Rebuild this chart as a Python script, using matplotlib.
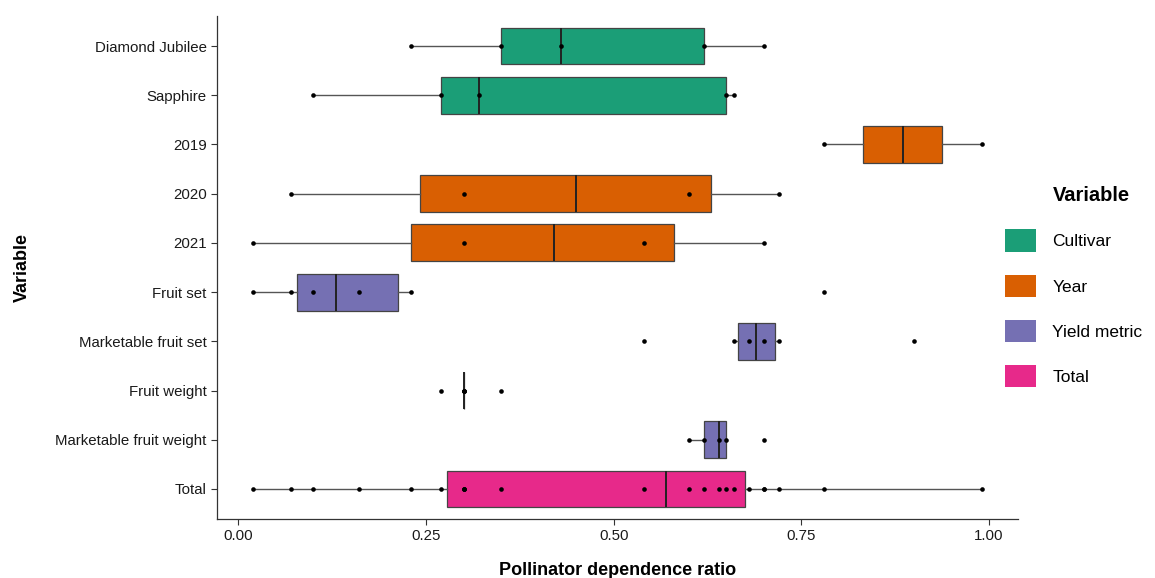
import numpy as np
import matplotlib
matplotlib.use("Agg")
import matplotlib.pyplot as plt
from matplotlib.patches import Patch

# pollinator dependence ratios per grouping
diamond_jubilee = [0.23, 0.35, 0.43, 0.62, 0.70]
sapphire = [0.10, 0.27, 0.32, 0.65, 0.66]
yr_2019 = [0.78, 0.99]
yr_2020 = [0.07, 0.30, 0.60, 0.72]
yr_2021 = [0.02, 0.30, 0.54, 0.70]
fruit_set = [0.02, 0.07, 0.10, 0.16, 0.23, 0.78]
mkt_fruit_set = [0.54, 0.66, 0.68, 0.70, 0.72, 0.90]
fruit_weight = [0.27, 0.30, 0.30, 0.30, 0.30, 0.35]
mkt_fruit_weight = [0.60, 0.62, 0.64, 0.65, 0.70]
total = [0.02, 0.07, 0.10, 0.16, 0.23, 0.27, 0.30, 0.30, 0.30, 0.35, 0.54,
         0.60, 0.62, 0.64, 0.65, 0.66, 0.68, 0.70, 0.70, 0.72, 0.78, 0.99]

labels = ["Diamond Jubilee", "Sapphire", "2019", "2020", "2021", "Fruit set",
          "Marketable fruit set", "Fruit weight", "Marketable fruit weight", "Total"]
groups = [diamond_jubilee, sapphire, yr_2019, yr_2020, yr_2021, fruit_set,
          mkt_fruit_set, fruit_weight, mkt_fruit_weight, total]
kinds = ["Cultivar", "Cultivar", "Year", "Year", "Year", "Yield metric",
         "Yield metric", "Yield metric", "Yield metric", "Total"]

palette = {"Cultivar": "#1B9E77", "Year": "#D95F02",
           "Yield metric": "#7570B3", "Total": "#E7298A"}

plt.rcParams['font.family'] = ['Liberation Sans', 'DejaVu Sans']

fig = plt.figure(figsize=(11.55, 5.78), dpi=100)
ax = fig.add_axes([0.1879, 0.1029, 0.8814 - 0.1879, 0.9715 - 0.1029])

n = len(groups)
pos = np.arange(n)[::-1]  # first group on top

bp = ax.boxplot(groups, positions=pos, vert=False, widths=0.75, whis=1.5,
                patch_artist=True, showfliers=False, showcaps=False,
                medianprops=dict(color="#222222", lw=1.4),
                whiskerprops=dict(color="#555555", lw=1.0),
                boxprops=dict(lw=0.9))
for box, k in zip(bp['boxes'], kinds):
    box.set_facecolor(palette[k])
    box.set_edgecolor("#444444")

for vals, y in zip(groups, pos):
    ax.scatter(vals, [y] * len(vals), s=11, color="black", zorder=5, lw=0)

lo, hi = min(min(g) for g in groups), max(max(g) for g in groups)
pad = (hi - lo) * 0.05
ax.set_xlim(lo - pad, hi + pad)
ax.set_ylim(-0.6, n - 0.4)
ax.set_yticks(pos)
ax.set_yticklabels(labels, fontsize=10.8, color="#1a1a1a")
ax.set_xticks([0, 0.25, 0.5, 0.75, 1.0])
ax.set_xticklabels(["0.00", "0.25", "0.50", "0.75", "1.00"], fontsize=10.8, color="#1a1a1a")
ax.tick_params(length=4, width=0.8, color="#333333")

for s in ["top", "right"]:
    ax.spines[s].set_visible(False)
for s in ["left", "bottom"]:
    ax.spines[s].set_color("#333333")
    ax.spines[s].set_linewidth(0.9)

ax.set_xlabel("Pollinator dependence ratio", fontsize=13, fontweight="bold", labelpad=14)
ax.set_ylabel("Variable", fontsize=13, fontweight="bold")
ax.yaxis.set_label_coords(-0.233, 0.5)

# legend keys plus a separate title aligned with the key labels
handles = [Patch(facecolor=c, edgecolor="none", label=k) for k, c in palette.items()]
fig.legend(handles=handles, loc="upper left",
           bbox_to_anchor=(0.8705, 0.603), frameon=False, fontsize=12.5,
           handlelength=1.75, handleheight=1.6, handletextpad=0.95,
           labelspacing=1.32, borderaxespad=0, borderpad=0)
fig.text(0.9115, 0.661, "Variable", fontsize=14.5, fontweight="bold", va="center", ha="left")

fig.savefig("out.png", dpi=100)
